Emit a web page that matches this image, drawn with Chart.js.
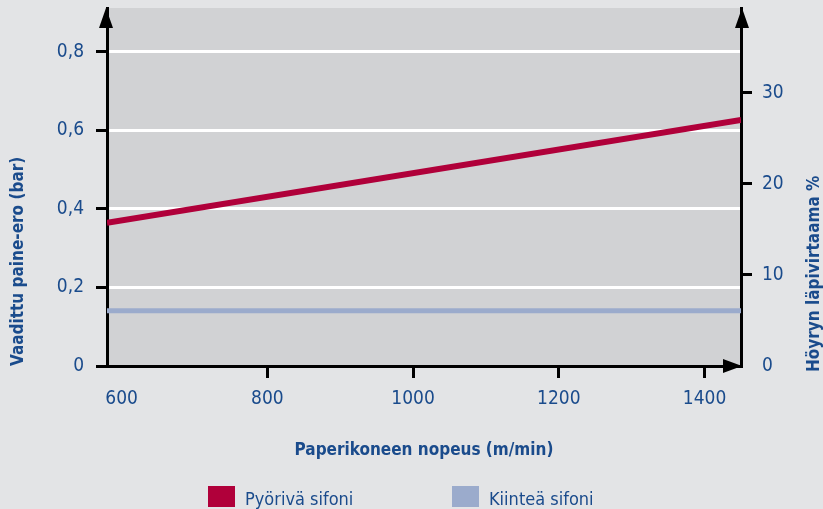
<!DOCTYPE html>
<html lang="fi">
<head>
  <meta charset="UTF-8" />
  <title>Paine-ero ja höyryn läpivirtaama</title>
  <style>
    html, body {
      margin: 0;
      padding: 0;
      background: #e3e4e6;
    }
    #wrap {
      width: 823px;
      height: 509px;
      position: relative;
    }
  </style>
</head>
<body>
  <div id="wrap"><canvas id="chart" width="823" height="509"></canvas></div>

  <script src="https://cdn.jsdelivr.net/npm/chart.js"></script>
  <script>
    // data
    const speeds = [580, 1450];              // m/min, ends of the plotted range
    const rotatingSiphon = [0.365, 0.627];   // bar
    const fixedSiphon = [0.141, 0.141];      // bar
    const xTicks = [600, 800, 1000, 1200, 1400];
    const leftTicks = [0, 0.2, 0.4, 0.6, 0.8];
    const rightTicks = [0, 10, 20, 30];
    const seriesNames = ['Pyörivä sifoni', 'Kiinteä sifoni'];

    const navy = '#1a4b8c';
    const red = '#b0003a';
    const lightBlue = '#9babcc';
    const family = '"DejaVu Sans Condensed", "Liberation Sans", sans-serif';

    const toPoints = ys => speeds.map((x, i) => ({ x: x, y: ys[i] }));
    const fixTicks = list => scale => { scale.ticks = list.map(v => ({ value: v })); };

    // grey plot background
    const plotBg = {
      id: 'plotBg',
      beforeDraw(chart) {
        const { ctx, chartArea: a } = chart;
        ctx.save();
        ctx.fillStyle = '#d1d2d4';
        ctx.fillRect(a.left, a.top, a.right - a.left, a.bottom - a.top);
        ctx.restore();
      }
    };

    // axis arrows, right axis title and legend
    const extras = {
      id: 'extras',
      afterDraw(chart) {
        const { ctx, chartArea: a } = chart;
        ctx.save();
        ctx.fillStyle = '#000';
        const up = x => {
          ctx.beginPath();
          ctx.moveTo(x, a.top);
          ctx.lineTo(x - 7, a.top + 20);
          ctx.lineTo(x + 7, a.top + 20);
          ctx.closePath();
          ctx.fill();
        };
        up(a.left - 1);
        up(a.right + 1);
        ctx.beginPath();
        ctx.moveTo(a.right + 1, a.bottom);
        ctx.lineTo(a.right - 18, a.bottom - 7);
        ctx.lineTo(a.right - 18, a.bottom + 7);
        ctx.closePath();
        ctx.fill();

        // right axis title, reads bottom to top
        ctx.fillStyle = navy;
        ctx.font = 'bold 17px ' + family;
        ctx.translate(819, 372);
        ctx.rotate(-Math.PI / 2);
        ctx.textAlign = 'left';
        ctx.textBaseline = 'alphabetic';
        ctx.fillText('Höyryn läpivirtaama %', 0, 0);
        ctx.setTransform(1, 0, 0, 1, 0, 0);

        // legend
        const spots = [208, 452];
        ctx.font = '18px ' + family;
        ctx.textBaseline = 'alphabetic';
        chart.data.datasets.forEach((ds, i) => {
          const x = spots[i];
          ctx.fillStyle = ds.borderColor;
          ctx.fillRect(x, 486, 27, 21);
          ctx.fillStyle = navy;
          ctx.fillText(ds.label, x + 37, 505);
        });
        ctx.restore();
      }
    };

    new Chart(document.getElementById('chart'), {
      type: 'line',
      data: {
        datasets: [
          {
            label: seriesNames[0],
            data: toPoints(rotatingSiphon),
            borderColor: red,
            backgroundColor: red,
            borderWidth: 6,
            pointRadius: 0,
            yAxisID: 'y'
          },
          {
            label: seriesNames[1],
            data: toPoints(fixedSiphon),
            borderColor: lightBlue,
            backgroundColor: lightBlue,
            borderWidth: 5,
            pointRadius: 0,
            yAxisID: 'y'
          }
        ]
      },
      options: {
        responsive: false,
        animation: false,
        layout: { padding: { top: 8, left: 0, right: 0, bottom: 0 } },
        plugins: {
          legend: { display: false },
          tooltip: { enabled: false }
        },
        scales: {
          x: {
            type: 'linear',
            min: speeds[0],
            max: speeds[1],
            afterBuildTicks: fixTicks(xTicks),
            afterFit(s) { s.height = 143; s.paddingLeft = 0; s.paddingRight = 0; },
            border: { color: '#000', width: 3 },
            grid: {
              drawOnChartArea: false,
              tickLength: 12,
              lineWidth: 3,
              tickWidth: 3,
              tickColor: c => (c.tick && c.tick.value === 600 ? 'rgba(0,0,0,0)' : '#000')
            },
            ticks: {
              color: navy,
              font: { family: family, size: 19 },
              padding: 10,
              maxRotation: 0,
              autoSkip: false,
              callback: v => String(v)
            },
            title: {
              display: true,
              text: 'Paperikoneen nopeus (m/min)',
              color: navy,
              font: { family: family, size: 17, weight: 'bold' },
              padding: { top: 0, bottom: 48 }
            }
          },
          y: {
            position: 'left',
            min: 0,
            max: 0.912,
            afterBuildTicks: fixTicks(leftTicks),
            afterFit(s) { s.width = 107; s.paddingTop = 0; s.paddingBottom = 0; },
            border: { color: '#000', width: 3 },
            grid: {
              color: c => (c.tick && c.tick.value === 0 ? 'rgba(0,0,0,0)' : '#ffffff'),
              lineWidth: 3,
              tickLength: 11,
              tickWidth: 3,
              tickColor: '#000'
            },
            ticks: {
              color: navy,
              font: { family: family, size: 19 },
              padding: 12,
              callback: v => (v === 0 ? '0' : v.toFixed(1).replace('.', ','))
            },
            title: {
              display: true,
              text: 'Vaadittu paine-ero (bar)',
              color: navy,
              align: 'start',
              font: { family: family, size: 17, weight: 'bold' },
              padding: { top: 8, bottom: 0 }
            }
          },
          y2: {
            position: 'right',
            min: 0,
            max: 39.3,
            afterBuildTicks: fixTicks(rightTicks),
            afterFit(s) { s.width = 82; s.paddingTop = 0; s.paddingBottom = 0; },
            border: { color: '#000', width: 3 },
            grid: {
              drawOnChartArea: false,
              lineWidth: 3,
              tickLength: 11,
              tickWidth: 3,
              tickColor: c => (c.tick && c.tick.value === 0 ? 'rgba(0,0,0,0)' : '#000')
            },
            ticks: {
              color: navy,
              font: { family: family, size: 19 },
              padding: 10
            }
          }
        }
      },
      plugins: [plotBg, extras]
    });
  </script>
</body>
</html>
